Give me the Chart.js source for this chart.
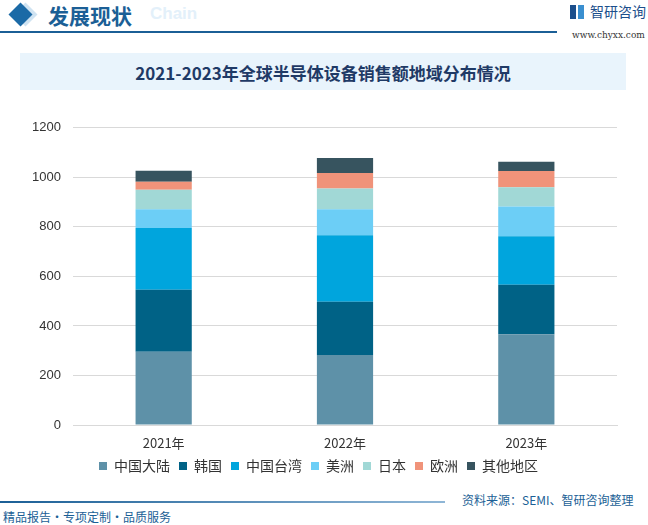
<!DOCTYPE html>
<html>
<head>
<meta charset="utf-8">
<script src="https://cdn.jsdelivr.net/npm/chart.js@4/dist/chart.umd.min.js"></script>
<style>
  html, body { margin: 0; padding: 0; background: #fff; }
  body { width: 648px; height: 525px; position: relative; overflow: hidden;
         font-family: "Noto Sans CJK SC", "Noto Sans", sans-serif; }
  .diamond { position: absolute; width: 17px; height: 17px; transform: rotate(45deg); }
  .head { position: absolute; left: 48px; top: 0px; font-size: 21px; font-weight: bold; color: #1b5f96; }
  .chain { position: absolute; left: 150px; top: 4px; font-size: 17px; font-weight: bold; color: #e3f0fa; font-family: "Liberation Sans", sans-serif; }
  .topline { position: absolute; left: 0; top: 31px; width: 557px; height: 2px; background: #1b5f96; }
  .logo { position: absolute; left: 590px; top: 1px; font-size: 14px; color: #1c4f8c; }
  .url { position: absolute; left: 572px; top: 30px; font-size: 9px; color: #333; font-family: "DejaVu Serif", serif; }
  .titlebox { position: absolute; left: 20px; top: 53px; width: 606px; height: 37px; background: #e9f4fc; }
  .title { position: absolute; left: 0; width: 606px; top: 7px; text-align: center; font-size: 17px; font-weight: bold; color: #1f3a66; }
  .chartbox { position: absolute; left: 20px; top: 108px; width: 616px; height: 375px; }
  .botline { position: absolute; left: 0; top: 501px; width: 445px; height: 2px; background: linear-gradient(to right, #1b5f96, #8fb6d6); }
  .slogan { position: absolute; left: 3px; top: 508px; font-size: 12px; color: #1b5f96; }
  .source { position: absolute; left: 462px; top: 491px; font-size: 12px; color: #1b5f96; }
</style>
</head>
<body>
<div class="diamond" style="left:17px;top:6px;background:#cfe3f2;"></div>
<div class="diamond" style="left:12px;top:6px;background:#1b6aa6;"></div>
<div class="head">发展现状</div>
<div class="chain">Chain</div>
<div class="topline"></div>
<div style="position:absolute;left:570px;top:5px;width:6px;height:14px;background:#1c4f8c;"></div>
<div style="position:absolute;left:578px;top:5px;width:6px;height:14px;background:#3a8fd0;"></div>
<div class="logo">智研咨询</div>
<div class="url">www.chyxx.com</div>
<div class="titlebox"><div class="title">2021-2023年全球半导体设备销售额地域分布情况</div></div>
<div class="chartbox"><canvas id="chart"></canvas></div>
<div class="botline"></div>
<div class="slogan">精品报告・专项定制・品质服务</div>
<div class="source">资料来源：SEMI、智研咨询整理</div>
<script>
const years = ["2021年", "2022年", "2023年"];
const regions = ["中国大陆", "韩国", "中国台湾", "美洲", "日本", "欧洲", "其他地区"];
const mainland = [296.2, 282.7, 366.6];
const korea = [249.8, 215.1, 199.4];
const taiwan = [249.4, 268.2, 196.2];
const america = [76.1, 104.8, 120.3];
const japan = [78.0, 83.9, 77.8];
const europe = [32.5, 63.0, 64.9];
const others = [45.0, 60.0, 38.0];
const yTicks = [0, 200, 400, 600, 800, 1000, 1200];
const colors = ["#5e91a8", "#006286", "#00a5dd", "#6ccef6", "#a1d8d6", "#f0937a", "#37545f"];

const series = [mainland, korea, taiwan, america, japan, europe, others];

new Chart(document.getElementById("chart"), {
  type: "bar",
  data: {
    labels: years,
    datasets: series.map(function (d, i) {
      return {
        label: regions[i],
        data: d,
        backgroundColor: colors[i],
        barPercentage: 0.62,
        categoryPercentage: 0.5
      };
    })
  },
  options: {
    responsive: true,
    maintainAspectRatio: false,
    animation: false,
    layout: { padding: { top: 7, right: 19, left: 0, bottom: 0 } },
    plugins: {
      tooltip: { enabled: false },
      legend: {
        position: "bottom",
        labels: {
          boxWidth: 8,
          boxHeight: 8,
          padding: 9,
          color: "#333",
          font: { size: 14, family: "Noto Sans CJK SC" }
        }
      }
    },
    scales: {
      x: {
        stacked: true,
        grid: { display: false },
        border: { color: "#d9d9d9" },
        ticks: { color: "#333", font: { size: 13, family: "Noto Sans CJK SC" }, padding: 2 },
        afterFit: function (s) { s.height = 25; }
      },
      y: {
        stacked: true,
        min: 0,
        max: 1200,
        afterBuildTicks: function (s) { s.ticks = yTicks.map(function (v) { return { value: v }; }); },
        grid: { color: "#d9d9d9", drawTicks: false },
        border: { display: false },
        ticks: {
          color: "#333",
          font: { size: 13, family: "Liberation Sans" },
          padding: 12,
          callback: function (v) { return String(v); }
        },
        afterFit: function (s) { s.width = 53; }
      }
    }
  }
});
</script>
</body>
</html>
